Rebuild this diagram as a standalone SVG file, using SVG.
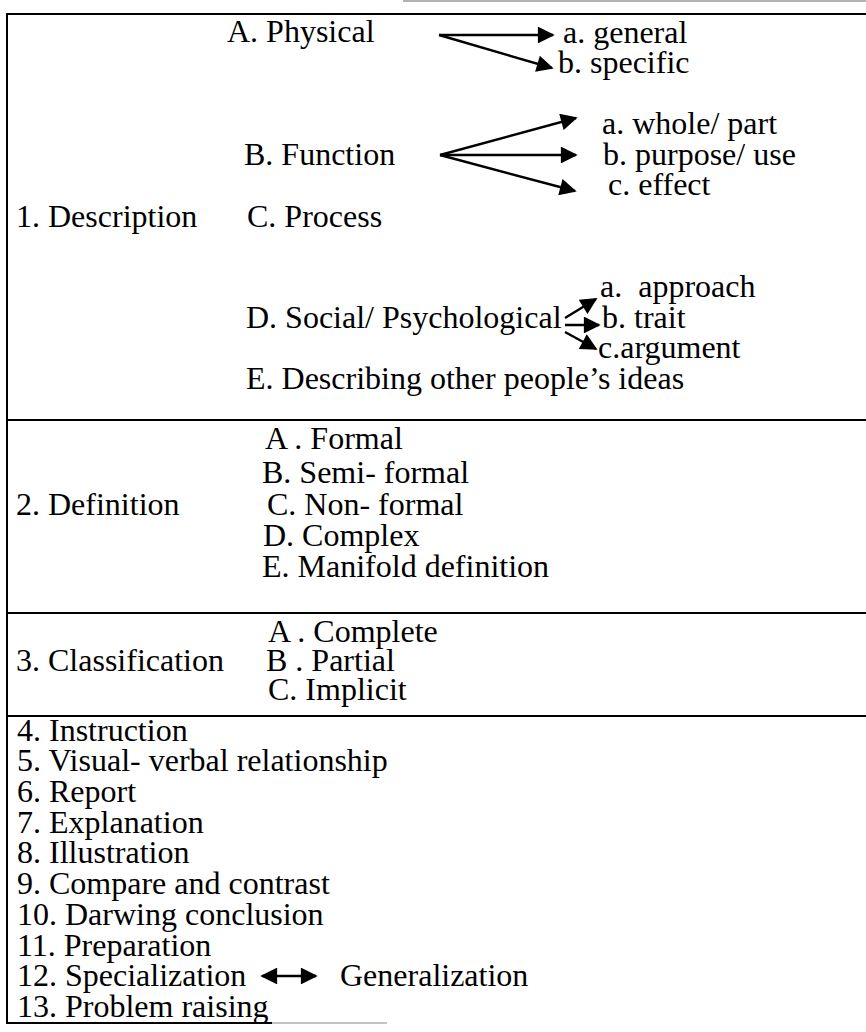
<svg xmlns="http://www.w3.org/2000/svg" width="866" height="1032" viewBox="0 0 866 1032">
<style>
text{font-size:32px;fill:#000}
.rule{stroke:#000;stroke-width:2;fill:none}
.conn{stroke:#000;stroke-width:2.4;fill:none}
</style>
<defs>
<marker id="ah" viewBox="0 0 10 10" refX="9" refY="5" markerWidth="8.5" markerHeight="7" markerUnits="strokeWidth" orient="auto">
<path d="M0,0 L10,5 L0,10 z" fill="#000"/>
</marker>
<marker id="ahs" viewBox="0 0 10 10" refX="9" refY="5" markerWidth="8.5" markerHeight="7" markerUnits="strokeWidth" orient="auto-start-reverse">
<path d="M0,0 L10,5 L0,10 z" fill="#000"/>
</marker>
</defs>
<rect width="866" height="1032" fill="#fff"/>
<g id="frame">
<line x1="403" y1="1" x2="866" y2="1" stroke="#666" stroke-width="1.2"/>
<line class="rule" x1="7" y1="14" x2="866" y2="14"/>
<line class="rule" x1="7" y1="13" x2="7" y2="1024"/>
<line class="rule" x1="7" y1="420" x2="866" y2="420"/>
<line class="rule" x1="7" y1="613" x2="866" y2="613"/>
<line class="rule" x1="7" y1="716" x2="866" y2="716"/>
<line class="rule" x1="7" y1="1023" x2="272" y2="1023"/>
<line x1="272" y1="1023" x2="387" y2="1023" stroke="#888" stroke-width="1"/>
</g>
<g font-family="Liberation Serif, Times New Roman, serif">
<g id="description">
<text x="16" y="227">1. Description</text>
<g id="physical">
<text x="227" y="42">A. Physical</text>
<text x="563" y="43">a. general</text>
<text x="558" y="73">b. specific</text>
</g>
<g id="function">
<text x="244" y="165">B. Function</text>
<text x="602" y="134">a. whole/ part</text>
<text x="603" y="165">b. purpose/ use</text>
<text x="608" y="195">c. effect</text>
</g>
<g id="process"><text x="247" y="227">C. Process</text></g>
<g id="social">
<text x="246" y="328">D. Social/ Psychological</text>
<text x="600" y="297" xml:space="preserve">a.  approach</text>
<text x="602" y="328">b. trait</text>
<text x="598" y="358">c.argument</text>
</g>
<g id="others"><text x="246" y="389">E. Describing other people’s ideas</text></g>
</g>
<g id="definition">
<text x="16" y="515">2. Definition</text>
<text x="265" y="449">A . Formal</text>
<text x="262" y="483">B. Semi- formal</text>
<text x="267" y="515">C. Non- formal</text>
<text x="263" y="546">D. Complex</text>
<text x="262" y="577">E. Manifold definition</text>
</g>
<g id="classification">
<text x="16" y="671">3. Classification</text>
<text x="268" y="642">A . Complete</text>
<text x="266" y="671">B . Partial</text>
<text x="268" y="700">C. Implicit</text>
</g>
<g id="list">
<text x="17" y="741">4. Instruction</text>
<text x="17" y="771">5. Visual- verbal relationship</text>
<text x="17" y="802">6. Report</text>
<text x="17" y="833">7. Explanation</text>
<text x="17" y="863">8. Illustration</text>
<text x="17" y="894">9. Compare and contrast</text>
<text x="17" y="925">10. Darwing conclusion</text>
<text x="17" y="956">11. Preparation</text>
<text x="17" y="986">12. Specialization</text>
<text x="340" y="986">Generalization</text>
<text x="17" y="1017">13. Problem raising</text>
</g>
</g>
<g id="connectors">
<line class="conn" x1="439" y1="35" x2="553" y2="35" marker-end="url(#ah)"/>
<line class="conn" x1="439" y1="35" x2="552" y2="68" marker-end="url(#ah)"/>
<line class="conn" x1="440" y1="155" x2="576" y2="118" marker-end="url(#ah)"/>
<line class="conn" x1="440" y1="155" x2="576" y2="155" marker-end="url(#ah)"/>
<line class="conn" x1="440" y1="155" x2="575" y2="191" marker-end="url(#ah)"/>
<line class="conn" x1="565" y1="318" x2="596" y2="299" marker-end="url(#ah)"/>
<line class="conn" x1="565" y1="325" x2="599" y2="325" marker-end="url(#ah)"/>
<line class="conn" x1="565" y1="332" x2="596" y2="349" marker-end="url(#ah)"/>
<line class="conn" x1="262" y1="976" x2="316" y2="976" marker-start="url(#ahs)" marker-end="url(#ah)"/>
</g>
</svg>
